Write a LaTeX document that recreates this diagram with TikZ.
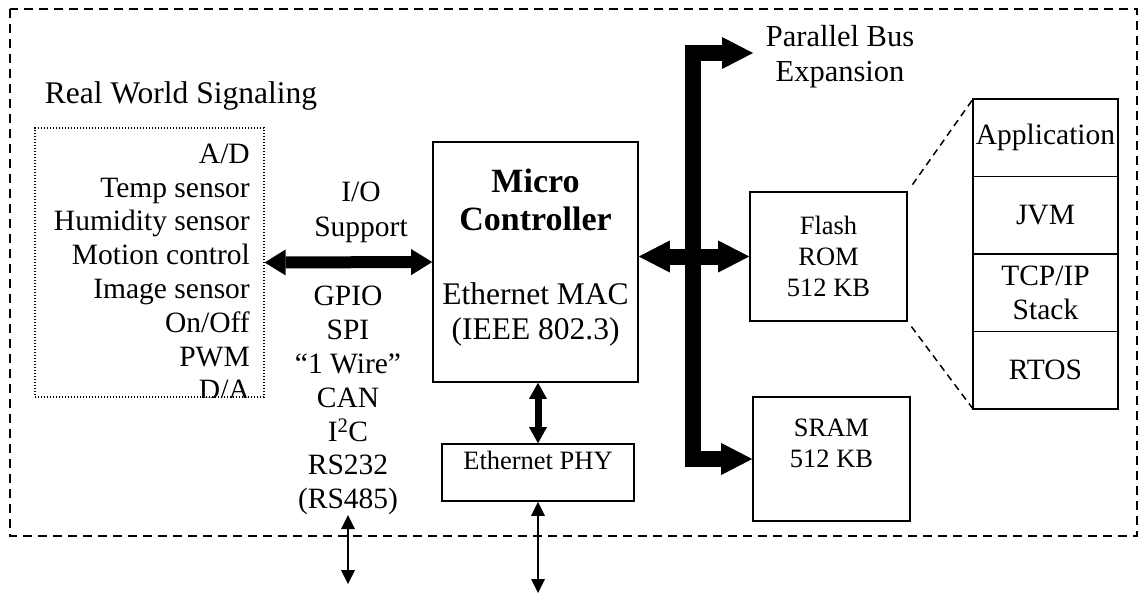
\documentclass[tikz,border=0pt]{standalone}
\usepackage{fontspec}
\setmainfont{Liberation Serif}
\usetikzlibrary{arrows.meta,positioning}

\begin{document}
\begin{tikzpicture}[x=1pt, y=-1pt,
    box/.style={draw, line width=1.6pt, inner sep=0pt},
    sigbox/.style={draw, line width=1.3pt, dash pattern=on 1.3pt off 1.7pt, inner sep=0pt},
    txt/.style={inner sep=0pt, align=center, font=\fontsize{29.5}{33.8}\selectfont},
    smalltxt/.style={inner sep=0pt, align=center, font=\fontsize{26.5}{31}\selectfont},
    mactxt/.style={inner sep=0pt, align=center, font=\fontsize{31.5}{35}\selectfont},
    boldtxt/.style={inner sep=0pt, align=center, font=\fontsize{34}{38}\selectfont\bfseries},
    stackbox/.style={box, txt, outer sep=0pt, minimum width=145pt, minimum height=77.5pt},
    bus/.style={line width=16pt, line join=miter,
      {Triangle[length=31pt, width=32pt, line width=0pt]}-{Triangle[length=31pt, width=32pt, line width=0pt]}},
    ioline/.style={line width=12pt,
      {Triangle[length=21pt, width=26pt, line width=0pt]}-{Triangle[length=21pt, width=26pt, line width=0pt]}},
    link/.style={line width=7pt,
      {Triangle[length=16pt, width=18pt, line width=0pt]}-{Triangle[length=16pt, width=18pt, line width=0pt]}},
    wire/.style={line width=2pt,
      {Triangle[length=14pt, width=14pt, line width=0pt]}-{Triangle[length=14pt, width=14pt, line width=0pt]}},
    zoomline/.style={line width=1.5pt, dash pattern=on 7pt off 5pt}]
  \useasboundingbox (0,0) rectangle (1139,595);

  \draw[line width=1.5pt, dash pattern=on 9pt off 6pt] (10,9) rectangle (1137,536);

  \node[font=\fontsize{31.5}{36}\selectfont, inner sep=0pt] (title) at (181,96) {Real World Signaling};
  \node[sigbox, minimum width=229pt, minimum height=269pt] (sig) at (149.5,262.5) {};
  \begin{scope}
    \clip (sig.north west) rectangle (sig.south east);
    \node[txt, align=right, anchor=east] (sigtext) at (250,271.9)
      {A/D\\Temp sensor\\Humidity sensor\\Motion control\\Image sensor\\On/Off\\PWM\\D/A};
  \end{scope}

  \node[txt, font=\fontsize{29.5}{35}\selectfont] (io) at (361,212.5) {I/O\\Support};
  \node[txt] (gpio) at (348,400.7) {GPIO\\SPI\\“1 Wire”\\CAN\\I\textsuperscript{2}C\\RS232\\(RS485)};

  \node[box, minimum width=205pt, minimum height=240pt,
    label={[boldtxt, below=28pt]north:Micro\\Controller},
    label={[mactxt, above=36pt]south:Ethernet MAC\\(IEEE 802.3)}] (mc) at (535.5,262) {};
  \node[box, minimum width=192pt, minimum height=57pt,
    label={[smalltxt, below=8pt]north:Ethernet PHY}] (phy) at (538,472.5) {};

  \node[box, smalltxt, minimum width=157pt, minimum height=129pt] (flash) at (828.5,256.5) {Flash\\ROM\\512 KB};
  \node[box, minimum width=157pt, minimum height=124pt,
    label={[smalltxt, below=23pt]north:SRAM\\512 KB}] (sram) at (831.5,459) {};

  \node[stackbox] (app) at (1045.5,137.75) {Application};
  \node[stackbox, below=0pt of app] (jvm) {JVM};
  \node[stackbox, below=0pt of jvm] (tcp) {TCP/IP\\Stack};
  \node[stackbox, below=0pt of tcp] (rtos) {RTOS};

  \node[txt, font=\fontsize{30.5}{35}\selectfont] (pbus) at (840,57) {Parallel Bus\\Expansion};

  \coordinate (expand) at (753,53);
  \coordinate (busx) at (693,53);
  \coordinate (uart) at (348,584);
  \coordinate (net) at (538,593);

  \draw[bus] (expand) -- (busx) -- (busx |- sram.west) -- (sram.west);
  \draw[bus] (mc.east |- flash.west) -- (flash.west);
  \draw[ioline] (sig.east) -- (mc.west);
  \draw[link] (phy.north |- mc.south) -- (phy.north);
  \draw[wire] (phy.south) -- (net);
  \draw[wire] (gpio.south) -- (uart);

  \draw[zoomline, shorten <=8pt] (flash.north east) -- (app.north west);
  \draw[zoomline, shorten <=6pt] (flash.south east) -- (rtos.south west);
\end{tikzpicture}
\end{document}
